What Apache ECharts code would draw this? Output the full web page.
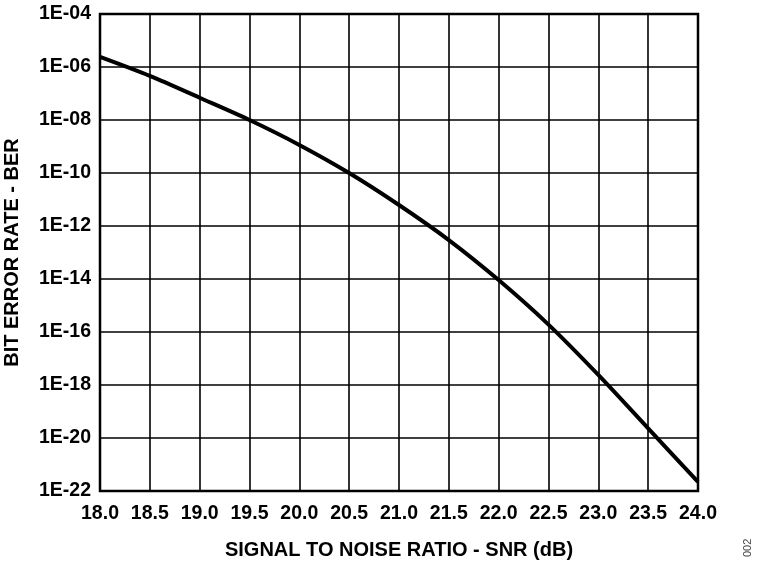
<!DOCTYPE html>
<html>
<head>
<meta charset="utf-8">
<script src="https://cdn.jsdelivr.net/npm/echarts@6/dist/echarts.min.js"></script>
<style>html,body{margin:0;padding:0;background:#fff}#c{width:760px;height:564px}</style>
</head>
<body>
<div id="c"></div>
<script>
var snr = [18.0, 18.5, 19.0, 19.5, 20.0, 20.5, 21.0, 21.5, 22.0, 22.5, 23.0, 23.5, 24.0];
var ber = [2.4e-6, 4.6e-7, 6.9e-8, 1.0e-8, 1.15e-9, 1.0e-10, 6.2e-12, 2.95e-13, 9.1e-15, 1.9e-16, 2.4e-18, 2.3e-20, 2.2e-22];
var xTicks = ['18.0','18.5','19.0','19.5','20.0','20.5','21.0','21.5','22.0','22.5','23.0','23.5','24.0'];
var yTicks = ['1E-22','1E-20','1E-18','1E-16','1E-14','1E-12','1E-10','1E-08','1E-06','1E-04'];

var font = 'Liberation Sans, Arial, sans-serif';
var chart = echarts.init(document.getElementById('c'), null, {renderer: 'canvas'});
// ECharts' log axis rounds values below 1e-20 to zero, so the decade axis is a
// value axis on log10(BER); labels show the BER powers of ten.
var pts = snr.map(function (x, i) { return [x, Math.log(ber[i]) / Math.LN10]; });

chart.setOption({
  animation: false,
  backgroundColor: '#fff',
  grid: {left: 100, right: 62, top: 14, bottom: 73, show: true, borderColor: '#000', borderWidth: 2.5,
    containLabel: false, outerBoundsMode: 'none'},
  xAxis: {
    type: 'value', min: 18, max: 24, interval: 0.5,
    name: 'SIGNAL TO NOISE RATIO - SNR (dB)', nameLocation: 'middle', nameGap: 49,
    nameTextStyle: {fontFamily: font, fontWeight: 'bold', fontSize: 20, color: '#000'},
    axisLine: {show: false}, axisTick: {show: false},
    axisLabel: {fontFamily: font, fontWeight: 'bold', fontSize: 19.5, color: '#000', margin: 13,
      formatter: function (v) { var i = Math.round((v - 18) / 0.5); return xTicks[i] || ''; }},
    splitLine: {show: true, lineStyle: {color: '#000', width: 1.6}}
  },
  yAxis: {
    type: 'value', min: -22, max: -4, interval: 2,
    name: 'BIT ERROR RATE - BER', nameLocation: 'middle', nameGap: 78, nameRotate: 90,
    nameTextStyle: {fontFamily: font, fontWeight: 'bold', fontSize: 20, color: '#000'},
    axisLine: {show: false}, axisTick: {show: false},
    axisLabel: {fontFamily: font, fontWeight: 'bold', fontSize: 19.5, color: '#000', margin: 9,
      formatter: function (v) { var i = Math.round((v + 22) / 2); return yTicks[i] || ''; }},
    splitLine: {show: true, lineStyle: {color: '#000', width: 1.6}}
  },
  series: [{
    type: 'line', data: pts, smooth: 0.3, symbol: 'none',
    lineStyle: {color: '#000', width: 4}
  }],
  graphic: [{
    type: 'text', x: 742, y: 557, rotation: Math.PI / 2,
    style: {text: '002', fontFamily: font, fontSize: 11, fill: '#444'}
  }]
});
</script>
</body>
</html>
